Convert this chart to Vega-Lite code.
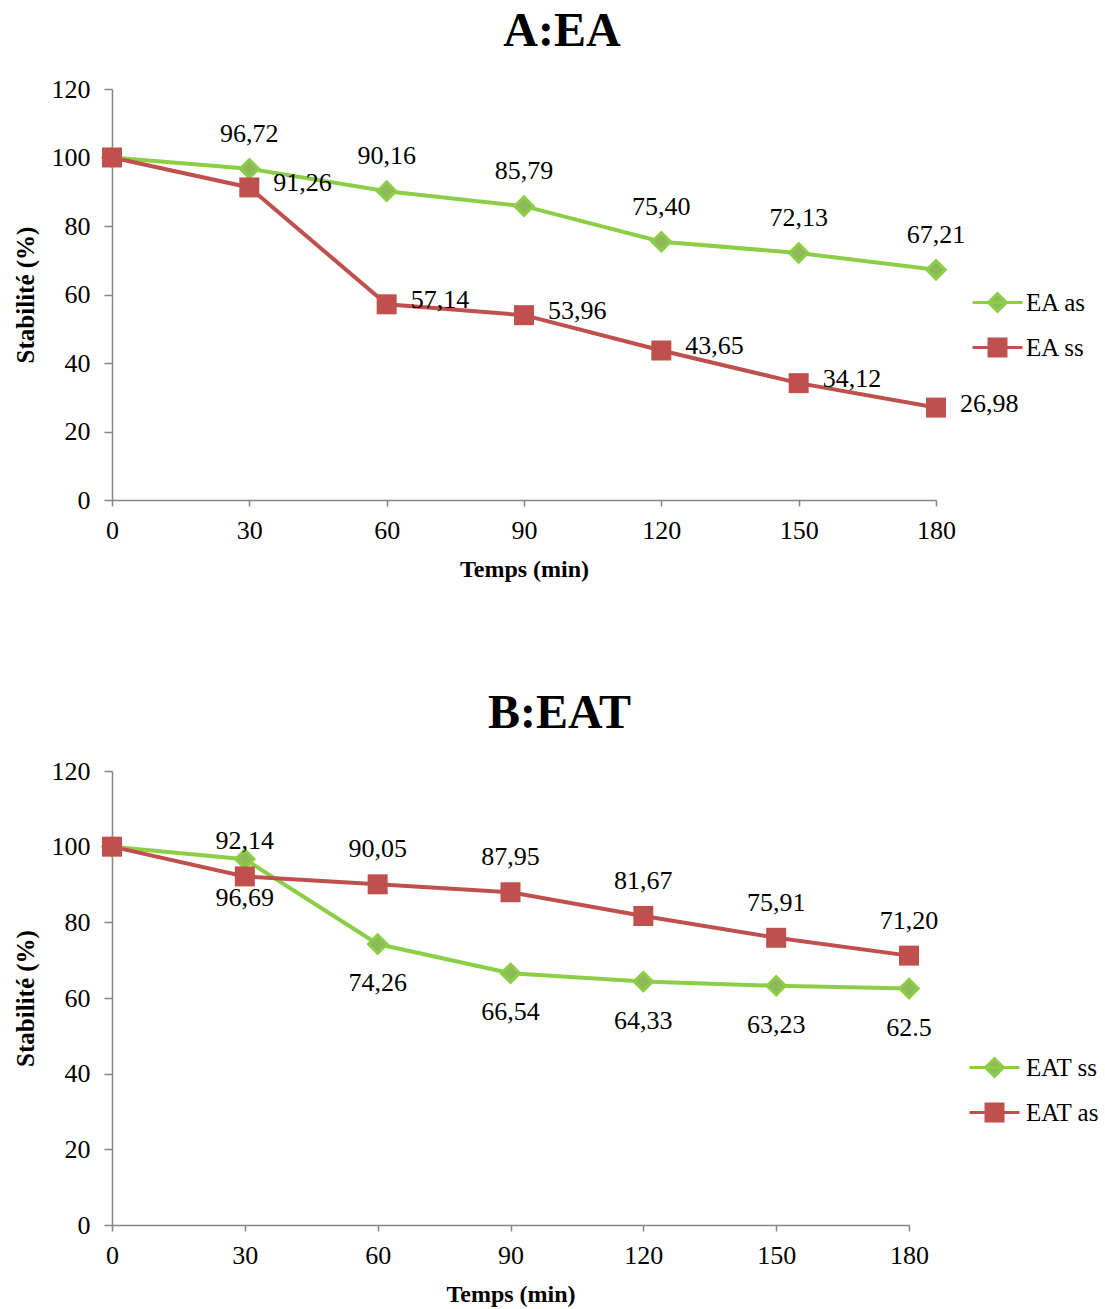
{
  "$schema": "https://vega.github.io/schema/vega-lite/v6.json",
  "padding": {"left": 13, "top": 8, "right": 5, "bottom": 2},
  "background": "white",
  "spacing": 109,
  "config": {
    "font": "Liberation Serif",
    "view": {"stroke": null},
    "axis": {"grid": false, "domainColor": "#868686", "tickColor": "#868686", "domainWidth": 1.5, "tickWidth": 1.5, "labelFont": "Liberation Serif", "labelFontSize": 26, "labelColor": "#000000", "titleFont": "Liberation Serif", "titleFontSize": 24, "titleFontWeight": "bold", "titleColor": "#000000"},
    "title": {"font": "Liberation Serif", "fontSize": 48, "fontWeight": "bold", "color": "#000000", "anchor": "middle", "offset": 20},
    "text": {"font": "Liberation Serif", "fontSize": 26, "color": "#000000"}
  },
  "resolve": {"scale": {"color": "independent", "x": "independent", "y": "independent"}, "legend": {"color": "independent"}},
  "vconcat": [
    {
      "title": {"text": "A:EA", "dx": 38},
      "width": 824,
      "height": 411,
      "data": {"values": [
        {"t": 0, "v": 100, "s": "EA as", "lab": ""},
        {"t": 30, "v": 96.72, "s": "EA as", "lab": "96,72"},
        {"t": 60, "v": 90.16, "s": "EA as", "lab": "90,16"},
        {"t": 90, "v": 85.79, "s": "EA as", "lab": "85,79"},
        {"t": 120, "v": 75.40, "s": "EA as", "lab": "75,40"},
        {"t": 150, "v": 72.13, "s": "EA as", "lab": "72,13"},
        {"t": 180, "v": 67.21, "s": "EA as", "lab": "67,21"},
        {"t": 0, "v": 100, "s": "EA ss", "lab": ""},
        {"t": 30, "v": 91.26, "s": "EA ss", "lab": "91,26"},
        {"t": 60, "v": 57.14, "s": "EA ss", "lab": "57,14"},
        {"t": 90, "v": 53.96, "s": "EA ss", "lab": "53,96"},
        {"t": 120, "v": 43.65, "s": "EA ss", "lab": "43,65"},
        {"t": 150, "v": 34.12, "s": "EA ss", "lab": "34,12"},
        {"t": 180, "v": 26.98, "s": "EA ss", "lab": "26,98"}
      ]},
      "encoding": {
        "x": {"field": "t", "type": "quantitative", "scale": {"domain": [0, 180], "nice": false}, "axis": {"values": [0, 30, 60, 90, 120, 150, 180], "title": "Temps (min)", "tickSize": 6, "labelPadding": 11, "titlePadding": 14, "labelFlush": false}},
        "y": {"field": "v", "type": "quantitative", "scale": {"domain": [0, 120], "nice": false}, "axis": {"values": [0, 20, 40, 60, 80, 100, 120], "title": "Stabilité (%)", "titleFontSize": 25, "tickSize": 8, "labelPadding": 14, "titlePadding": 13}}
      },
      "layer": [
        {
          "mark": {"type": "line", "strokeWidth": 4},
          "encoding": {
            "color": {"field": "s", "type": "nominal", "scale": {"domain": ["EA as", "EA ss"], "range": ["#8CCF46", "#C0504D"]},
              "legend": {"title": null, "orient": "none", "legendX": 873, "legendY": 201, "symbolSize": 400, "symbolStrokeWidth": 3, "labelFontSize": 25, "labelFont": "Liberation Serif", "labelColor": "#000000", "labelOffset": 16, "rowPadding": 15, "padding": 0,
                "encode": {"symbols": {"update": {
                  "shape": {"signal": "datum.value === 'EA as' ? 'M-2.5,0L2.5,0M0,-0.9L0.9,0L0,0.9L-0.9,0Z' : 'M-2.5,0L2.5,0M-0.85,-0.85L0.85,-0.85L0.85,0.85L-0.85,0.85Z'"},
                  "stroke": {"signal": "datum.value === 'EA as' ? '#8CCF46' : '#C0504D'"},
                  "fill": {"signal": "datum.value === 'EA as' ? '#8FB85A' : '#C0504D'"},
                  "strokeWidth": {"value": 3},
                  "opacity": {"value": 1}
                }}}}}
          }
        },
        {
          "transform": [{"filter": "datum.s === 'EA as'"}],
          "mark": {"type": "point", "shape": "diamond", "filled": true, "opacity": 1, "size": 340, "fill": "#8FB85A", "stroke": "#8CCF46", "strokeWidth": 3}
        },
        {
          "transform": [{"filter": "datum.s === 'EA ss'"}],
          "mark": {"type": "point", "shape": "square", "filled": true, "opacity": 1, "size": 400, "fill": "#C0504D", "strokeWidth": 0}
        },
        {
          "transform": [{"filter": "datum.s === 'EA as' && datum.t > 0"}],
          "mark": {"type": "text", "dy": -35},
          "encoding": {"text": {"field": "lab"}}
        },
        {
          "transform": [{"filter": "datum.s === 'EA ss' && datum.t > 0"}],
          "mark": {"type": "text", "align": "left", "dx": 24, "dy": -4},
          "encoding": {"text": {"field": "lab"}}
        }
      ]
    },
    {
      "title": {"text": "B:EAT", "dx": 49},
      "width": 797,
      "height": 454,
      "data": {"values": [
        {"t": 0, "v": 100, "s": "EAT ss", "lab": ""},
        {"t": 30, "v": 96.69, "s": "EAT ss", "lab": "96,69"},
        {"t": 60, "v": 74.26, "s": "EAT ss", "lab": "74,26"},
        {"t": 90, "v": 66.54, "s": "EAT ss", "lab": "66,54"},
        {"t": 120, "v": 64.33, "s": "EAT ss", "lab": "64,33"},
        {"t": 150, "v": 63.23, "s": "EAT ss", "lab": "63,23"},
        {"t": 180, "v": 62.5, "s": "EAT ss", "lab": "62.5"},
        {"t": 0, "v": 100, "s": "EAT as", "lab": ""},
        {"t": 30, "v": 92.14, "s": "EAT as", "lab": "92,14"},
        {"t": 60, "v": 90.05, "s": "EAT as", "lab": "90,05"},
        {"t": 90, "v": 87.95, "s": "EAT as", "lab": "87,95"},
        {"t": 120, "v": 81.67, "s": "EAT as", "lab": "81,67"},
        {"t": 150, "v": 75.91, "s": "EAT as", "lab": "75,91"},
        {"t": 180, "v": 71.20, "s": "EAT as", "lab": "71,20"}
      ]},
      "encoding": {
        "x": {"field": "t", "type": "quantitative", "scale": {"domain": [0, 180], "nice": false}, "axis": {"values": [0, 30, 60, 90, 120, 150, 180], "title": "Temps (min)", "tickSize": 6, "labelPadding": 11, "titlePadding": 14, "labelFlush": false}},
        "y": {"field": "v", "type": "quantitative", "scale": {"domain": [0, 120], "nice": false}, "axis": {"values": [0, 20, 40, 60, 80, 100, 120], "title": "Stabilité (%)", "titleFontSize": 25, "tickSize": 8, "labelPadding": 14, "titlePadding": 13}}
      },
      "layer": [
        {
          "mark": {"type": "line", "strokeWidth": 4},
          "encoding": {
            "color": {"field": "s", "type": "nominal", "scale": {"domain": ["EAT ss", "EAT as"], "range": ["#8CCF46", "#C0504D"]},
              "legend": {"title": null, "orient": "none", "legendX": 870, "legendY": 284, "symbolSize": 400, "symbolStrokeWidth": 3, "labelFontSize": 25, "labelFont": "Liberation Serif", "labelColor": "#000000", "labelOffset": 19, "rowPadding": 15, "padding": 0,
                "encode": {"symbols": {"update": {
                  "shape": {"signal": "datum.value === 'EAT ss' ? 'M-2.5,0L2.5,0M0,-0.9L0.9,0L0,0.9L-0.9,0Z' : 'M-2.5,0L2.5,0M-0.85,-0.85L0.85,-0.85L0.85,0.85L-0.85,0.85Z'"},
                  "stroke": {"signal": "datum.value === 'EAT ss' ? '#8CCF46' : '#C0504D'"},
                  "fill": {"signal": "datum.value === 'EAT ss' ? '#8FB85A' : '#C0504D'"},
                  "strokeWidth": {"value": 3},
                  "opacity": {"value": 1}
                }}}}}
          }
        },
        {
          "transform": [{"filter": "datum.s === 'EAT ss'"}],
          "mark": {"type": "point", "shape": "diamond", "filled": true, "opacity": 1, "size": 340, "fill": "#8FB85A", "stroke": "#8CCF46", "strokeWidth": 3}
        },
        {
          "transform": [{"filter": "datum.s === 'EAT as'"}],
          "mark": {"type": "point", "shape": "square", "filled": true, "opacity": 1, "size": 400, "fill": "#C0504D", "strokeWidth": 0}
        },
        {
          "transform": [{"filter": "datum.s === 'EAT ss' && datum.t > 0"}],
          "mark": {"type": "text", "dy": 39},
          "encoding": {"text": {"field": "lab"}}
        },
        {
          "transform": [{"filter": "datum.s === 'EAT as' && datum.t > 0"}],
          "mark": {"type": "text", "dy": -35},
          "encoding": {"text": {"field": "lab"}}
        }
      ]
    }
  ]
}
